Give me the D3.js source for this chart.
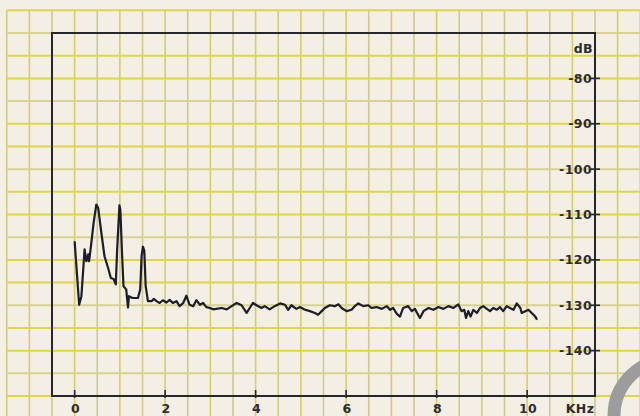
<!DOCTYPE html>
<html>
<head>
<meta charset="utf-8">
<script src="https://cdn.jsdelivr.net/npm/d3@7"></script>
<style>
  html, body { margin: 0; padding: 0; background: #f3efe4; }
  svg { display: block; }
  .lbl { font-family: "DejaVu Sans", sans-serif; font-weight: bold; font-size: 12.5px; letter-spacing: 0.4px; fill: #2b2b33; }
</style>
</head>
<body>
<svg id="chart" width="640" height="416"></svg>
<script>
// spectrum trace (kHz, dB)
const freqs = [0.00, 0.10, 0.15, 0.22, 0.26, 0.30, 0.32, 0.37, 0.42, 0.48, 0.52, 0.59, 0.66, 0.74, 0.80, 0.86, 0.91, 0.94, 0.99, 1.01,
  1.05, 1.08, 1.14, 1.18, 1.20, 1.28, 1.40, 1.45, 1.48, 1.51, 1.54, 1.57, 1.62, 1.70, 1.75, 1.81, 1.88, 1.95, 2.03, 2.10,
  2.17, 2.25, 2.32, 2.40, 2.47, 2.54, 2.62, 2.69, 2.77, 2.84, 2.91, 2.99, 3.06, 3.13, 3.25, 3.36, 3.47, 3.58, 3.69, 3.80,
  3.87, 3.94, 4.02, 4.13, 4.20, 4.31, 4.42, 4.54, 4.65, 4.72, 4.79, 4.90, 4.98, 5.09, 5.20, 5.31, 5.38, 5.46, 5.53, 5.64,
  5.75, 5.83, 5.90, 6.01, 6.12, 6.19, 6.27, 6.38, 6.49, 6.56, 6.67, 6.79, 6.90, 6.97, 7.04, 7.12, 7.19, 7.26, 7.37, 7.45,
  7.52, 7.63, 7.71, 7.82, 7.93, 8.04, 8.15, 8.26, 8.37, 8.48, 8.55, 8.61, 8.65, 8.70, 8.75, 8.81, 8.89, 8.96, 9.03, 9.11,
  9.18, 9.25, 9.33, 9.40, 9.47, 9.55, 9.62, 9.70, 9.77, 9.85, 9.88, 9.96, 10.03, 10.10, 10.18, 10.22];
const levels = [-115.9, -129.9, -128.0, -117.7, -120.3, -118.8, -120.3, -116.2, -111.8, -107.8, -108.5, -114.0, -119.2, -121.8, -124.0, -124.2, -125.4, -117.7, -108.0, -108.9,
  -119.2, -125.8, -126.5, -130.5, -128.0, -128.4, -128.4, -126.5, -119.2, -117.1, -118.0, -125.8, -129.1, -129.1, -128.6, -129.1, -129.5, -128.9, -129.4, -128.8,
  -129.5, -129.1, -130.2, -129.5, -127.9, -129.9, -130.2, -128.9, -129.9, -129.5, -130.4, -130.6, -130.9, -130.8, -130.6, -130.9, -130.2, -129.5, -130.0, -131.7,
  -130.6, -129.5, -130.0, -130.6, -130.2, -130.9, -130.2, -129.6, -129.9, -131.0, -130.0, -130.8, -130.4, -131.0, -131.3, -131.7, -132.1, -131.3, -130.6, -130.0,
  -130.2, -129.8, -130.6, -131.3, -131.0, -130.2, -129.6, -130.2, -130.0, -130.6, -130.4, -130.8, -130.2, -131.0, -130.6, -131.9, -132.5, -130.6, -130.2, -131.3,
  -130.8, -132.8, -131.3, -130.6, -131.0, -130.4, -130.8, -130.2, -130.6, -129.8, -131.3, -131.0, -132.8, -131.3, -132.5, -131.0, -131.7, -130.6, -130.2, -130.8,
  -131.3, -130.6, -131.0, -130.4, -131.3, -130.2, -130.6, -131.0, -129.6, -130.6, -131.7, -131.3, -131.0, -131.7, -132.5, -133.2];

const xTicks = [0, 2, 4, 6, 8, 10];
const yTicks = [-80, -90, -100, -110, -120, -130, -140];

const svg = d3.select("#chart");
const x = d3.scaleLinear().domain([-0.5, 11.5]).range([52, 595]);
const y = d3.scaleLinear().domain([-150, -70]).range([396, 33]);

// graph paper
svg.append("rect").attr("width", 640).attr("height", 416).attr("fill", "#f3efe4");
const grid = svg.append("g");
grid.selectAll(".vg").data(d3.range(-1.5, 12.51, 0.5)).enter().append("line")
  .attr("x1", d => x(d)).attr("x2", d => x(d))
  .attr("y1", y(-65)).attr("y2", 416)
  .attr("stroke", (d, i) => i % 2 ? "#d6cd6a" : "#cfc98a")
  .attr("stroke-width", 1.6);
grid.selectAll(".hg").data(d3.range(-65, -155, -5)).enter().append("line")
  .attr("x1", x(-1.5)).attr("x2", 640)
  .attr("y1", d => y(d)).attr("y2", d => y(d))
  .attr("stroke", (d, i) => i % 3 == 1 ? "#d8d28e" : "#e2d640")
  .attr("stroke-width", 2);

// frame
svg.append("rect")
  .attr("x", x(-0.5)).attr("y", y(-70))
  .attr("width", x(11.5) - x(-0.5)).attr("height", y(-150) - y(-70))
  .attr("fill", "none").attr("stroke", "#26262e").attr("stroke-width", 2);

// y axis on the right
const ya = svg.append("g");
ya.selectAll("line").data(yTicks).enter().append("line")
  .attr("x1", x(11.5) - 4).attr("x2", x(11.5) + 5)
  .attr("y1", d => y(d)).attr("y2", d => y(d))
  .attr("stroke", "#26262e").attr("stroke-width", 1.6);
ya.selectAll("text").data(yTicks).enter().append("text")
  .attr("class", "lbl")
  .attr("x", x(11.5) - 3).attr("y", d => y(d) + 4.5)
  .attr("text-anchor", "end")
  .text(d => "-" + Math.abs(d));
svg.append("text").attr("class", "lbl").attr("x", x(11.5) - 2).attr("y", 53)
  .attr("text-anchor", "end").text("dB");

// x axis at the bottom
const xa = svg.append("g");
xa.selectAll("line").data(xTicks).enter().append("line")
  .attr("x1", d => x(d)).attr("x2", d => x(d))
  .attr("y1", y(-150) - 6).attr("y2", y(-150) + 2)
  .attr("stroke", "#26262e").attr("stroke-width", 1.6);
xa.selectAll("text").data(xTicks).enter().append("text")
  .attr("class", "lbl")
  .attr("x", d => x(d) + 1).attr("y", 413)
  .attr("text-anchor", "middle")
  .text(d => d);
svg.append("text").attr("class", "lbl").attr("x", 580).attr("y", 413)
  .attr("text-anchor", "middle").text("KHz");

// trace
const pts = freqs.map((f, i) => [f, levels[i]]);
svg.append("path")
  .datum(pts)
  .attr("fill", "none")
  .attr("stroke", "#1c1c2a")
  .attr("stroke-width", 2.2)
  .attr("stroke-linejoin", "round")
  .attr("d", d3.line().x(d => x(d[0])).y(d => y(d[1])));

// grey ring from the scan, bottom right corner
svg.append("circle")
  .attr("cx", 671).attr("cy", 416).attr("r", 57)
  .attr("fill", "none").attr("stroke", "#9c9c9c").attr("stroke-width", 13);
</script>
</body>
</html>
